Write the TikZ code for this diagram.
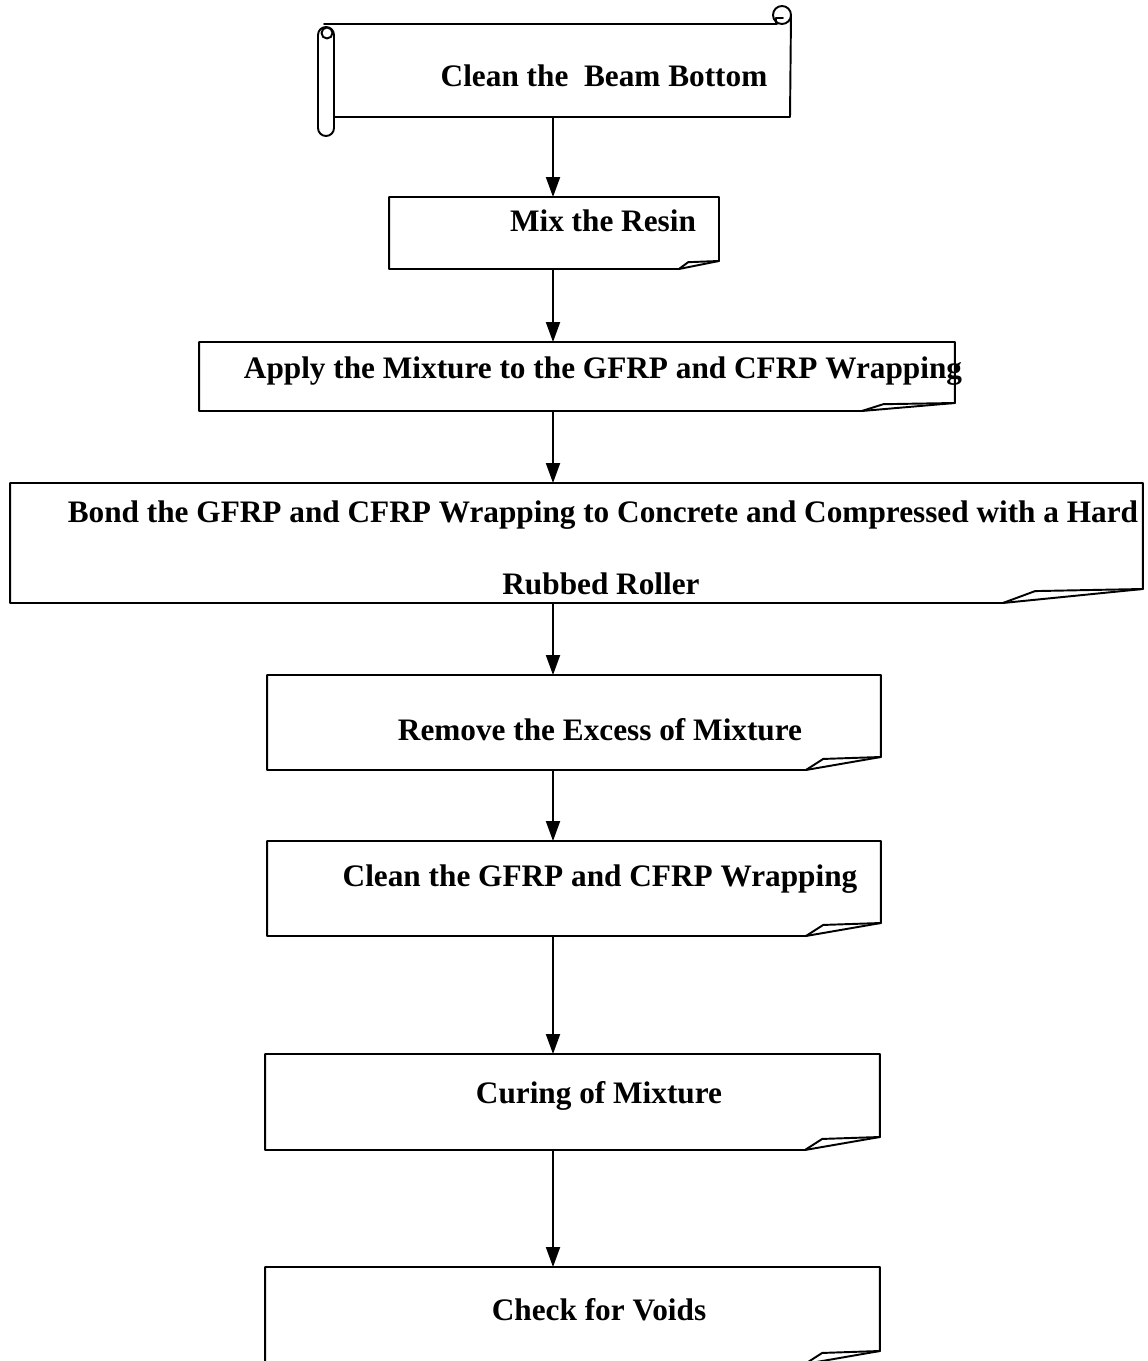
\documentclass[tikz,border=0pt]{standalone}
\usepackage{fontspec}
\setmainfont{Liberation Serif}
\usetikzlibrary{arrows.meta,calc}
\tikzset{
 stepbox/.style={inner sep=0pt, outer sep=0pt},
 steptext/.style={inner sep=0pt, anchor=base, font=\bfseries\fontsize{17.8pt}{21pt}\selectfont},
 flow/.style={-{Triangle[length=0.4cm,width=0.28cm]}}
}
% box outline with the turned-up corner, #2 = corner width, #3 = corner height (px)
\newcommand\foldbox[3]{%
 \draw (#1.north west)--(#1.north east)--($(#1.south east)+(0,-#3)$)--($(#1.south east)+(-#2,0)$)--(#1.south west)--cycle;
 \draw ($(#1.south east)+(-#2,0)$)--($(#1.south east)+(-0.77*#2,-0.85*#3)$)--($(#1.south east)+(0,-#3)$);}
\begin{document}
\begin{tikzpicture}[x=0.02cm, y=-0.02cm, line width=1.1pt, line join=round, line cap=round]
 \path[use as bounding box, clip] (0,0) rectangle (1147,1361);
 \coordinate (spine) at (553,0);
 % scroll at the top
 \node[stepbox, minimum width=9.12cm, minimum height=1.86cm] (scroll) at (562,70.5) {};
 \draw[rounded corners=0.16cm] (318,27) rectangle (334,136);
 \draw (327,33) circle (0.11cm);
 \draw (324,24)--(777,24);
 \draw (782,15) circle (0.18cm);
 \draw (776,24)--(776,18)--(783,18);
 \draw (791,15)--(790,117)--(334,117);
 \node[steptext] (scrolltext) at (604,87) {Clean the\ \ Beam Bottom};
 % process boxes
 \node[stepbox, minimum width=6.6cm, minimum height=1.44cm] (mix) at (554,233) {};
 \node[stepbox, minimum width=15.12cm, minimum height=1.38cm] (apply) at (577,376.5) {};
 \node[stepbox, minimum width=22.66cm, minimum height=2.4cm] (bond) at (576.5,543) {};
 \node[stepbox, minimum width=12.28cm, minimum height=1.9cm] (remove) at (574,722.5) {};
 \node[stepbox, minimum width=12.28cm, minimum height=1.9cm] (cleanwrap) at (574,888.5) {};
 \node[stepbox, minimum width=12.3cm, minimum height=1.92cm] (curing) at (572.5,1102) {};
 \node[stepbox, minimum width=12.3cm, minimum height=1.94cm] (check) at (572.5,1315.5) {};
 \foldbox{mix}{40}{8}
 \foldbox{apply}{93}{8}
 \foldbox{bond}{140}{14}
 \foldbox{remove}{75}{13}
 \foldbox{cleanwrap}{75}{13}
 \foldbox{curing}{75}{13}
 \foldbox{check}{75}{13}
 \node[steptext] (mixtext) at (603,232) {Mix the Resin};
 \node[steptext] (applytext) at (603,378) {Apply the Mixture to the GFRP and CFRP Wrapping};
 \node[steptext] (bondtext) at (603,522) {Bond the GFRP and CFRP Wrapping to Concrete and Compressed with a Hard};
 \node[steptext] (bondtext2) at (601,594) {Rubbed Roller};
 \node[steptext] (removetext) at (600,740) {Remove the Excess of Mixture};
 \node[steptext] (cleanwraptext) at (600,886) {Clean the GFRP and CFRP Wrapping};
 \node[steptext] (curingtext) at (599,1103) {Curing of Mixture};
 \node[steptext] (checktext) at (599,1320) {Check for Voids};
 % arrows
 \foreach \a/\b in {scroll/mix, mix/apply, apply/bond, bond/remove, remove/cleanwrap, cleanwrap/curing, curing/check}
  \draw[flow] (\a.south -| spine)--(\b.north -| spine);
\end{tikzpicture}
\end{document}
